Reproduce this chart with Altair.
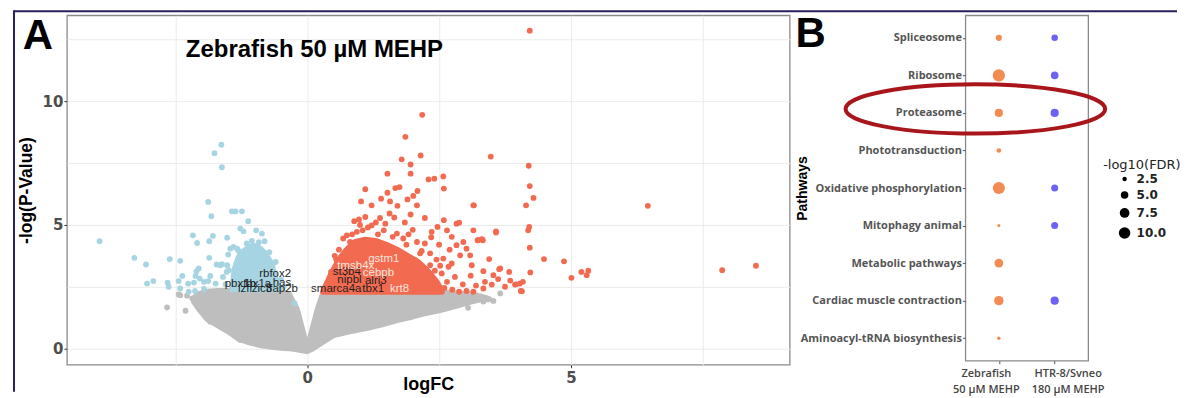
import altair as alt
import pandas as pd

# ---------------- Panel A : volcano plot ----------------
X_DOMAIN = [-4.56, 9.15]
Y_DOMAIN = [-0.65, 13.47]

# boundaries of the dense, non-significant (grey) point mass
grey_band_x = [-2.15, -2.05, -1.9, -1.7, -1.5, -1.3, -1.1, -0.9, -0.7, -0.5, -0.35, -0.2, -0.1, 0.0,
               0.1, 0.2, 0.3, 0.5, 0.8, 1.1, 1.4, 1.7, 2.0, 2.2, 2.5, 2.8, 3.1, 3.3, 3.45]
grey_band_hi = [2.05, 2.2, 2.3, 2.33, 2.33, 2.33, 2.33, 2.33, 2.33, 2.3, 2.2, 1.6, 0.8, -0.05,
                0.8, 1.6, 2.23, 2.25, 2.25, 2.25, 2.25, 2.25, 2.25, 2.25, 2.28, 2.23, 2.2, 2.1, 2.0]
grey_band_lo = [1.9, 1.6, 1.2, 0.95, 0.7, 0.4, 0.25, 0.15, 0.08, 0.04, 0.02, -0.03, -0.07, -0.1,
                0.0, 0.15, 0.28, 0.55, 0.7, 0.82, 0.97, 1.15, 1.3, 1.42, 1.55, 1.72, 1.9, 2.0, 2.0]

# dense core of up-regulated (red) points
red_band_x = [0.3, 0.45, 0.6, 0.75, 0.9, 1.1, 1.3, 1.5, 1.7, 1.9, 2.1, 2.3, 2.45, 2.55]
red_band_hi = [2.3, 3.0, 3.6, 4.0, 4.3, 4.4, 4.35, 4.2, 4.0, 3.75, 3.5, 3.1, 2.7, 2.35]
red_band_lo = [2.3, 2.3, 2.3, 2.3, 2.3, 2.3, 2.3, 2.3, 2.3, 2.3, 2.3, 2.3, 2.3, 2.3]

# dense core of down-regulated (blue) points
blue_band_x = [-1.42, -1.38, -1.3, -1.2, -1.1, -1.0, -0.9, -0.8, -0.7, -0.62, -0.55]
blue_band_hi = [2.4, 3.2, 3.7, 3.95, 4.1, 4.15, 4.05, 3.85, 3.5, 3.0, 2.4]
blue_band_lo = [2.4, 2.4, 2.4, 2.4, 2.4, 2.4, 2.4, 2.4, 2.4, 2.4, 2.4]

# individual points
grey_x = [-2.66, -2.31, -2.44, -2.28, -2.41, -2.18, -1.84, -1.40, -1.27, 3.53, 3.05, 3.34, 3.66, 3.40,
          3.15, 2.83, 2.52, 3.0, 3.2]
grey_y = [1.67, 1.53, 2.19, 2.14, 2.16, 2.03, 1.09, 0.62, 0.35, 1.93, 1.65, 1.90, 2.23, 2.03,
          2.23, 2.23, 2.30, 1.95, 2.1]

blue_x = [-1.63, -1.76, -1.62, -1.88, -1.82, -1.43, -1.36, -1.24, -1.12, -1.27, -1.21, -0.97, -0.86, -0.81,
          -3.94, -3.28, -3.06, -2.61, -2.41, -2.17, -2.09, -1.86, -1.79, -1.86, -2.06, -2.10, -1.72, -1.62,
          -1.52, -1.49, -1.52, -1.40, -1.33, -1.46, -3.04, -2.92, -2.65, -2.63, -2.44, -2.37, -2.41, -2.26,
          -2.15, -2.12, -2.04, -1.96, -1.88, -1.84, -1.74, -2.25, -2.13, -1.96, -0.24, -1.53, -1.65, -1.60,
          -1.55, -1.50, -0.50, -0.45, -0.60, -1.05, -0.92, -1.15, -0.72, -0.66, -1.30]
blue_y = [8.24, 7.90, 7.33, 5.93, 5.35, 5.55, 5.55, 5.55, 5.15, 4.85, 4.74, 4.78, 4.65, 4.34,
          4.34, 3.67, 3.40, 3.62, 3.55, 4.58, 4.27, 4.34, 4.56, 3.67, 3.24, 3.13, 3.40, 3.41,
          3.37, 3.17, 4.48, 4.11, 4.04, 4.04, 2.63, 2.73, 2.67, 2.50, 2.73, 2.94, 2.43, 2.63,
          2.67, 2.94, 2.83, 2.70, 2.73, 2.94, 2.63, 2.30, 2.33, 2.41, 1.83, 3.10, 3.37, 2.90,
          2.60, 3.80, 2.80, 2.50, 3.50, 4.35, 4.30, 4.25, 3.90, 3.35, 3.95]

red_x = [4.22, 2.18, 1.86, 2.15, 1.79, 1.96, 3.48, 4.20, 1.52, 1.96, 2.30, 2.41, 2.58, 1.10, 1.52, 1.67,
         1.75, 2.59, 4.22, 4.29, 2.09, 2.01, 1.90, 1.02, 1.22, 1.40, 1.57, 3.15, 4.15, 1.71, 2.08, 0.89,
         1.10, 1.38, 1.56, 1.96, 2.23, 2.59, 2.83, 2.88, 2.47, 2.36, 2.65, 2.74, 3.15, 3.31, 3.24, 3.58,
         4.21, 4.19, 4.22, 4.49, 4.23, 4.03, 3.94, 4.07, 3.83, 3.66, 3.53, 3.34, 3.45, 3.62, 3.50, 3.37,
         3.34, 3.15, 3.02, 2.88, 2.96, 3.02, 3.09, 3.12, 2.83, 2.90, 2.74, 2.58, 2.68, 2.55, 2.42, 2.65,
         2.49, 6.46, 7.87, 8.51, 4.87, 5.01, 5.20, 5.30, 5.33, 3.96, 4.09, 4.05, 3.64, 3.58, 3.23, 3.33,
         3.16, 0.81, 0.75, 0.94, 1.22, 1.45, 1.70, 1.82, 2.08, 2.23, 2.14, 2.33, 2.05, 2.33, 2.20, 2.14,
         2.33, 1.95, 1.76, 0.60, 0.55, 0.45, 0.40, 1.00, 1.30, 1.15, 2.70, 2.80, 2.95, 2.60, 2.75, 3.20,
         3.10, 2.35, 2.50, 2.45, 2.52, 1.85, 2.00, 1.65, 3.75, 3.85, 0.68, 0.85, 1.05, 1.34, 1.62, 1.88,
         2.17, 2.42, 0.52, 0.98, 1.48, 1.92]
red_y = [12.85, 9.45, 8.56, 7.81, 7.65, 7.44, 7.76, 7.39, 7.07, 7.07, 6.84, 6.87, 6.96, 6.44, 6.30, 6.49,
         6.53, 6.47, 6.57, 6.09, 6.37, 6.17, 6.03, 5.95, 5.79, 6.06, 5.95, 5.79, 5.79, 5.77, 5.79, 5.15,
         5.32, 5.28, 5.46, 5.42, 5.28, 5.19, 5.05, 5.09, 4.92, 4.72, 4.78, 4.52, 4.78, 4.42, 4.38, 4.74,
         4.92, 4.78, 4.08, 3.62, 3.08, 2.63, 2.59, 2.32, 3.10, 3.24, 2.97, 3.13, 3.62, 2.81, 2.59, 2.70,
         2.43, 2.30, 2.33, 2.30, 4.31, 4.04, 3.77, 3.37, 4.18, 3.77, 3.44, 3.64, 3.31, 3.04, 2.77, 2.70,
         2.41, 5.77, 3.17, 3.35, 3.53, 2.86, 3.10, 2.97, 3.15, 2.60, 2.70, 2.33, 3.21, 4.69, 4.38, 4.38,
         5.79, 4.31, 4.58, 4.72, 4.98, 4.78, 4.65, 4.45, 4.31, 4.25, 3.85, 3.85, 3.58, 3.37, 3.10, 2.77,
         2.63, 2.97, 2.70, 4.00, 3.60, 3.10, 2.70, 5.00, 5.10, 4.90, 4.00, 2.90, 2.60, 2.45, 2.38, 2.55,
         2.95, 4.50, 4.20, 3.60, 3.35, 5.10, 4.80, 5.30, 2.50, 2.75, 4.45, 4.62, 4.78, 4.62, 4.52, 4.20,
         3.95, 3.15, 3.75, 5.22, 5.05, 4.62]

# gene labels
gene_names = ["rbfox2", "pbx1b", "tbx1a", "has", "lzfr", "zic3", "tfap2b",
              "gstm1", "tmsb4x", "st3b4", "cebpb", "nipbl", "alri3", "smarca4a", "tbx1", "krt8"]
gene_x = [-0.61, -1.27, -0.95, -0.48, -1.17, -0.86, -0.48,
          1.45, 0.92, 0.75, 1.35, 0.80, 1.30, 0.55, 1.25, 1.75]
gene_y = [3.00, 2.63, 2.63, 2.67, 2.43, 2.41, 2.41,
          3.62, 3.35, 3.10, 3.04, 2.77, 2.73, 2.43, 2.43, 2.41]
gene_light = [False, False, False, False, False, False, False,
              True, True, False, True, False, False, False, False, True]

# ---------------- Panel B : pathway dot plot ----------------
pathways = ["Spliceosome", "Ribosome", "Proteasome", "Phototransduction", "Oxidative phosphorylation",
            "Mitophagy animal", "Metabolic pathways", "Cardiac muscle contraction",
            "Aminoacyl-tRNA biosynthesis"]
samples = ["Zebrafish|50 \u00b5M MEHP", "HTR-8/Svneo|180 \u00b5M MEHP"]
zebrafish_fdr = [3.75, 11.2, 5.7, 2.66, 11.0, 1.8, 6.4, 7.1, 2.0]
htr8_fdr = [4.0, 5.1, 5.7, None, 4.5, 4.5, None, 5.7, None]
legend_values = [2.5, 5.0, 7.5, 10.0]

GREY = "#BEBEBE"
BLUE = "#A6D4E3"
RED = "#F26A50"
ORANGE = "#F28C52"
PURPLE = "#6C63F2"
NAVY = "#2B1F5C"
ARIAL = "Liberation Sans"

# ---------- build tables ----------
grey_band = pd.DataFrame({"logFC": grey_band_x, "hi": grey_band_hi, "lo": grey_band_lo})
red_band = pd.DataFrame({"logFC": red_band_x, "hi": red_band_hi, "lo": red_band_lo})
blue_band = pd.DataFrame({"logFC": blue_band_x, "hi": blue_band_hi, "lo": blue_band_lo})
grey_pts = pd.DataFrame({"logFC": grey_x, "nlogp": grey_y})
blue_pts = pd.DataFrame({"logFC": blue_x, "nlogp": blue_y})
red_pts = pd.DataFrame({"logFC": red_x, "nlogp": red_y})
genes = pd.DataFrame({"g": gene_names, "logFC": gene_x, "nlogp": gene_y, "light": gene_light})
one = pd.DataFrame({"k": [0]})

zeb_rows = pd.DataFrame({"pathway": pathways, "sample": samples[0], "fdr": zebrafish_fdr})
htr_rows = pd.DataFrame({"pathway": pathways, "sample": samples[1], "fdr": htr8_fdr}).dropna()

# ---------- panel A ----------
xs = alt.Scale(domain=X_DOMAIN, nice=False, zero=False)
ys = alt.Scale(domain=Y_DOMAIN, nice=False, zero=False)
tick_cond = {"condition": {"test": "datum.value % 5 === 0", "value": "#333333"}, "value": "transparent"}
x_axis = alt.Axis(values=[-2.5, 0, 2.5, 5, 7.5], format="~g",
                  labelExpr="datum.value % 5 === 0 ? datum.label : ''",
                  labelFont="DejaVu Sans", labelFontSize=15, labelFontWeight="bold", labelColor="#4d4d4d",
                  labelPadding=3, tickSize=3, tickColor=tick_cond, domain=False,
                  gridColor="#EBEBEB", title="logFC", titleFont=ARIAL, titleFontSize=18,
                  titleFontWeight="bold", titleColor="black", titleX=362, titleY=20,
                  titleBaseline="middle", titleAlign="center")
y_axis = alt.Axis(values=[0, 2.5, 5, 7.5, 10, 12.5], format="~g",
                  labelExpr="datum.value % 5 === 0 ? datum.label : ''",
                  labelFont="DejaVu Sans", labelFontSize=15, labelFontWeight="bold", labelColor="#4d4d4d",
                  labelPadding=1, tickSize=3, tickColor=tick_cond, domain=False,
                  gridColor="#EBEBEB", title="-log(P-Value)", titleFont=ARIAL, titleFontSize=17.5,
                  titleFontWeight="bold", titleColor="black", titleAngle=270, titleX=-40, titleY=175,
                  titleBaseline="middle", titleAlign="center")


def xenc():
    return alt.X("logFC:Q", scale=xs, axis=x_axis, title="logFC")


def band(df, col):
    return alt.Chart(df).mark_area(color=col, stroke=col, strokeWidth=6, strokeJoin="round",
                                   opacity=1).encode(
        x=xenc(),
        y=alt.Y("hi:Q", scale=ys, axis=y_axis, title="-log(P-Value)"),
        y2="lo:Q",
    )


def dots(df, col):
    return alt.Chart(df).mark_circle(size=34, opacity=1, color=col).encode(
        x=xenc(),
        y=alt.Y("nlogp:Q", scale=ys, axis=y_axis, title="-log(P-Value)"),
    )


def gene_text(light):
    return alt.Chart(genes).transform_filter(
        "datum.light" if light else "!datum.light"
    ).mark_text(font=ARIAL, fontSize=11.5, align="center", baseline="middle",
                color="#f6e6de" if light else "#1f1f1f").encode(
        x=xenc(),
        y=alt.Y("nlogp:Q", scale=ys, axis=y_axis, title="-log(P-Value)"),
        text="g:N",
    )


letter_a = alt.Chart(one).mark_text(text="A", font=ARIAL, fontSize=42, fontWeight="bold",
                                    align="center", baseline="middle", color="black").encode(
    x=alt.value(-29), y=alt.value(21))
title_a = alt.Chart(one).mark_text(text="Zebrafish 50 \u00b5M MEHP", font=ARIAL, fontSize=24,
                                   fontWeight="bold", align="center", baseline="middle",
                                   color="black").encode(x=alt.value(248), y=alt.value(35))
frame_left = alt.Chart(one).mark_rule(color=NAVY, strokeWidth=2).encode(
    x=alt.value(-53), y=alt.value(-5), y2=alt.value(377))
frame_top = alt.Chart(one).mark_rule(color=NAVY, strokeWidth=2).encode(
    x=alt.value(-53), x2=alt.value(1112), y=alt.value(-4))

panel_a = alt.layer(band(grey_band, GREY), dots(grey_pts, GREY),
                    band(blue_band, BLUE), band(red_band, RED),
                    dots(blue_pts, BLUE), dots(red_pts, RED),
                    gene_text(False), gene_text(True),
                    letter_a, title_a, frame_left, frame_top).properties(width=724, height=350)

# ---------- panel B ----------
bx = alt.Scale(type="point", domain=samples, padding=0.6)
by = alt.Scale(type="point", domain=pathways, padding=0.6)
bx_axis = alt.Axis(title=None, labelExpr="split(datum.label, '|')", labelAngle=0,
                   labelFont="Open Sans", labelFontSize=11, labelFontWeight=600, labelColor="#444444",
                   labelLineHeight=16, labelPadding=4, tickSize=3, tickColor="#555555", domain=False,
                   gridColor="#EBEBEB", labelBaseline="top", labelOverlap=False,
                   labelOffset={"condition": {"test": "indexof(datum.value, 'Zebrafish') >= 0",
                                              "value": -13}, "value": 13})
by_axis = alt.Axis(title="Pathways", titleX=-163, titleY=173, titleAngle=270, titleFont=ARIAL,
                   titleFontSize=14, titleFontWeight="bold", titleColor="black", titleBaseline="middle",
                   titleAlign="center", labelFont="Open Sans", labelFontWeight="bold", labelFontSize=11,
                   labelColor="#555555", labelPadding=1, tickSize=3, tickColor="#555555", domain=False,
                   gridColor="#EBEBEB")
size_scale = alt.Scale(domain=[1.5, 11.5], range=[4.5, 155.4], zero=False)

size_legend = alt.Legend(orient="none", legendX=1052.5, legendY=158, title=None,
                         values=legend_values, format=".1f", labelFont="DejaVu Sans",
                         labelFontWeight="bold", labelFontSize=12, labelColor="#222222",
                         symbolType="circle", symbolOpacity=1, rowPadding=3, labelOffset=5, padding=0)


def bdots(df, col, legend, empty=False):
    base = alt.Chart(df)
    if empty:
        base = base.transform_filter("false")
    return base.mark_circle(opacity=1, color=col).encode(
        x=alt.X("sample:N", scale=bx, axis=bx_axis),
        y=alt.Y("pathway:N", scale=by, axis=by_axis),
        size=alt.Size("fdr:Q", scale=size_scale, legend=legend),
    )


ELLIPSE = "M -1 0 A 1 0.19 0 1 1 1 0 A 1 0.19 0 1 1 -1 0 Z"
ell = alt.Chart(pd.DataFrame({"pathway": ["Proteasome"]})).mark_point(
    shape=ELLIPSE, filled=False, color="#A8161B", strokeWidth=4, size=67600, opacity=1,
    yOffset=-4).encode(
    x=alt.value(10), y=alt.Y("pathway:N", scale=by, axis=by_axis))

letter_b = alt.Chart(one).mark_text(text="B", font=ARIAL, fontSize=42, fontWeight="bold",
                                    align="center", baseline="middle", color="black").encode(
    x=alt.value(-155), y=alt.value(19))
leg_title = alt.Chart(one).mark_text(text="-log10(FDR)", font="DejaVu Sans", fontSize=13,
                                     align="left", baseline="middle", color="#222222").encode(
    x=alt.value(138), y=alt.value(150))

panel_b = alt.layer(bdots(zeb_rows, "black", size_legend, empty=True),
                    bdots(zeb_rows, ORANGE, None), bdots(htr_rows, PURPLE, None),
                    ell, letter_b, leg_title).properties(width=123, height=346)

chart = alt.hconcat(panel_a, panel_b, spacing=176, bounds="flush").properties(
    padding={"left": 4, "top": 0, "right": 0, "bottom": 0}
).configure_view(stroke="#8a8a8a", strokeWidth=1.3)

chart.save("out.html", embed_options={"renderer": "svg", "actions": False})
